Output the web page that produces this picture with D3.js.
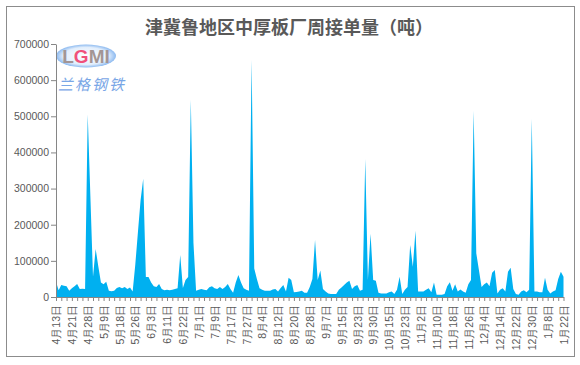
<html>
  <head>
    <meta charset="utf-8">
    <title>津冀鲁地区中厚板厂周接单量</title>
    <script type="text/javascript" src="https://cdn.jsdelivr.net/npm/d3@7"></script>
    <style>
      body { margin: 0; background: #fff; }
      svg text { font-family: "Liberation Sans", Arial, sans-serif; }
    </style>
  </head>
  <body>
    <svg></svg>
    <script>
      'use strict';

      // working-day dates, one per data point
      let dates = [
        '4月13日','4月14日','4月15日','4月16日','4月17日','4月20日','4月21日',
        '4月22日','4月23日','4月24日','4月26日','4月27日','4月28日',
        '4月29日','4月30日','5月6日','5月7日','5月8日','5月9日',
        '5月11日','5月12日','5月13日','5月14日','5月15日','5月18日',
        '5月19日','5月20日','5月21日','5月22日','5月25日','5月26日',
        '5月27日','5月28日','5月29日','6月1日','6月2日','6月3日',
        '6月4日','6月5日','6月8日','6月9日','6月10日','6月11日',
        '6月12日','6月15日','6月16日','6月17日','6月19日','6月22日',
        '6月23日','6月24日','6月28日','6月29日','6月30日','7月1日',
        '7月2日','7月3日','7月6日','7月7日','7月8日','7月9日',
        '7月10日','7月13日','7月14日','7月15日','7月16日','7月17日',
        '7月20日','7月21日','7月22日','7月23日','7月24日','7月27日',
        '7月28日','7月29日','7月30日','7月31日','8月3日','8月4日',
        '8月5日','8月6日','8月7日','8月10日','8月11日','8月12日',
        '8月13日','8月14日','8月17日','8月18日','8月19日','8月20日',
        '8月21日','8月24日','8月25日','8月26日','8月27日','8月28日',
        '8月31日','9月1日','9月2日','9月3日','9月4日','9月7日',
        '9月8日','9月9日','9月10日','9月11日','9月14日','9月15日',
        '9月16日','9月17日','9月18日','9月21日','9月22日','9月23日',
        '9月24日','9月25日','9月27日','9月28日','9月29日','9月30日',
        '10月9日','10月10日','10月12日','10月13日','10月14日','10月15日',
        '10月16日','10月19日','10月20日','10月21日','10月22日','10月23日',
        '10月26日','10月27日','10月28日','10月29日','10月30日','11月2日',
        '11月3日','11月4日','11月5日','11月6日','11月9日','11月10日',
        '11月11日','11月12日','11月13日','11月16日','11月17日','11月18日',
        '11月19日','11月20日','11月23日','11月24日','11月25日','11月26日',
        '11月27日','11月30日','12月1日','12月2日','12月3日','12月4日',
        '12月7日','12月8日','12月9日','12月10日','12月11日','12月14日',
        '12月15日','12月16日','12月17日','12月18日','12月21日','12月22日',
        '12月23日','12月24日','12月25日','12月28日','12月29日','12月30日',
        '12月31日','1月4日','1月5日','1月6日','1月7日','1月8日',
        '1月11日','1月13日','1月15日','1月18日','1月20日','1月22日'
      ];

      // tonnes
      let orders = [
        42000, 19000, 33000, 31000, 30000, 17000, 24000, 30000, 36000, 22000,
        23000, 22000, 505000, 280000, 56000, 133000, 85000, 40000, 35000, 42000,
        17000, 16000, 17000, 25000, 28000, 24000, 28000, 22000, 26000, 15000,
        90000, 180000, 268000, 327000, 55000, 55000, 40000, 30000, 28000, 36000,
        22000, 19000, 20000, 19000, 20000, 22000, 24000, 116000, 25000, 47000,
        55000, 546000, 150000, 17000, 20000, 22000, 20000, 19000, 27000, 30000,
        24000, 22000, 28000, 22000, 28000, 36000, 22000, 12000, 40000, 61000,
        40000, 24000, 20000, 17000, 656000, 79000, 50000, 24000, 20000, 17000,
        17000, 17000, 21000, 22000, 15000, 25000, 33000, 15000, 53000, 47000,
        13000, 14000, 15000, 17000, 12000, 12000, 28000, 50000, 158000, 47000,
        73000, 22000, 15000, 10000, 8000, 8000, 8000, 20000, 26000, 33000,
        40000, 45000, 22000, 30000, 33000, 17000, 20000, 382000, 47000, 175000,
        47000, 45000, 12000, 10000, 10000, 10000, 13000, 15000, 8000, 20000,
        56000, 8000, 20000, 28000, 144000, 84000, 183000, 15000, 15000, 15000,
        20000, 24000, 13000, 40000, 6000, 6000, 6000, 8000, 30000, 41000,
        17000, 35000, 15000, 21000, 15000, 12000, 35000, 47000, 515000, 121000,
        75000, 28000, 35000, 40000, 30000, 67000, 75000, 10000, 20000, 24000,
        15000, 70000, 81000, 22000, 8000, 6000, 15000, 19000, 13000, 20000,
        493000, 15000, 15000, 13000, 13000, 53000, 20000, 10000, 15000, 19000,
        50000, 70000, 56000
      ];

      // only these dates get a label on the x axis
      let shownDates = [
        '4月13日','4月21日','4月28日','5月9日','5月18日','5月26日','6月3日',
        '6月11日','6月22日','7月1日','7月9日','7月17日','7月27日','8月4日',
        '8月12日','8月20日','8月28日','9月7日','9月15日','9月23日','9月30日',
        '10月15日','10月23日','11月2日','11月10日','11月18日','11月26日',
        '12月4日','12月14日','12月22日','12月30日','1月8日','1月22日'
      ];

      let yTicks = [0, 100000, 200000, 300000, 400000, 500000, 600000, 700000];

      let w = 580;
      let h = 365;
      let plotLeft = 56, plotRight = 563.5, plotTop = 44, plotBottom = 297;
      let grey = '#595959';
      let lineGrey = '#868686';

      let svg = d3.select('svg')
        .attr('width', w)
        .attr('height', h);

      // chart frame
      svg.append('rect')
        .attr('x', 6.5).attr('y', 6.5)
        .attr('width', 568).attr('height', 350)
        .attr('fill', '#fff')
        .attr('stroke', '#8c8c8c');

      svg.append('text')
        .attr('x', 289).attr('y', 34)
        .attr('text-anchor', 'middle')
        .style('font-family', '"Noto Sans CJK SC", sans-serif')
        .style('font-size', '18px')
        .style('font-weight', 'bold')
        .attr('fill', grey)
        .text('津冀鲁地区中厚板厂周接单量（吨）');

      let x = d3.scalePoint().domain(dates).range([plotLeft, plotRight]);
      let y = d3.scaleLinear().domain([0, 700000]).range([plotBottom, plotTop]);

      // logo watermark
      let logo = svg.append('g');
      let grad = svg.append('defs').append('radialGradient').attr('id', 'lg');
      grad.append('stop').attr('offset', '0%').attr('stop-color', '#ffffff');
      grad.append('stop').attr('offset', '75%').attr('stop-color', '#e2eefc');
      grad.append('stop').attr('offset', '100%').attr('stop-color', '#8dbaf0');
      logo.append('ellipse')
        .attr('cx', 86).attr('cy', 56).attr('rx', 30).attr('ry', 11.5)
        .attr('fill', 'url(#lg)');
      let lt = logo.append('text')
        .attr('x', 86).attr('y', 63)
        .attr('text-anchor', 'middle')
        .style('font-size', '19px')
        .style('font-weight', 'bold');
      lt.append('tspan').attr('fill', '#a39595').text('L');
      lt.append('tspan').attr('fill', '#f0507a').text('G');
      lt.append('tspan').attr('fill', '#a39595').text('MI');
      logo.append('text')
        .attr('x', 92).attr('y', 90)
        .attr('text-anchor', 'middle')
        .style('font-family', '"Noto Sans CJK SC", sans-serif')
        .style('font-size', '15px')
        .style('font-style', 'italic')
        .style('letter-spacing', '2px')
        .attr('fill', '#79a6e6')
        .text('兰格钢铁');

      // the area
      let area = d3.area()
        .x(function (d, i) { return x(dates[i]); })
        .y0(y(0))
        .y1(function (d) { return y(d); });

      svg.append('path')
        .datum(orders)
        .attr('d', area)
        .attr('fill', '#00b0f0');

      // y axis
      let yAxis = svg.append('g')
        .attr('transform', 'translate(' + plotLeft + ',0)')
        .call(d3.axisLeft(y).tickValues(yTicks).tickSize(5).tickSizeOuter(0)
          .tickFormat(d3.format('d')));
      yAxis.selectAll('text')
        .attr('x', -7)
        .style('font-size', '10.5px')
        .attr('fill', grey);

      // x axis: a tick every second day, a label every sixth
      let xAxis = svg.append('g')
        .attr('transform', 'translate(0,' + plotBottom + ')')
        .call(d3.axisBottom(x)
          .tickValues(dates.filter(function (d, i) { return i % 2 === 0; }))
          .tickSize(4).tickSizeOuter(0)
          .tickFormat(function (d) { return shownDates.indexOf(d) >= 0 ? d : ''; }));
      xAxis.selectAll('text')
        .attr('transform', 'rotate(-90)')
        .attr('x', -8)
        .attr('y', 0)
        .attr('dy', '0.35em')
        .style('text-anchor', 'end')
        .style('font-size', '10.5px')
        .attr('fill', grey);

      svg.selectAll('.domain, .tick line').attr('stroke', lineGrey);
    </script>
  </body>
</html>
